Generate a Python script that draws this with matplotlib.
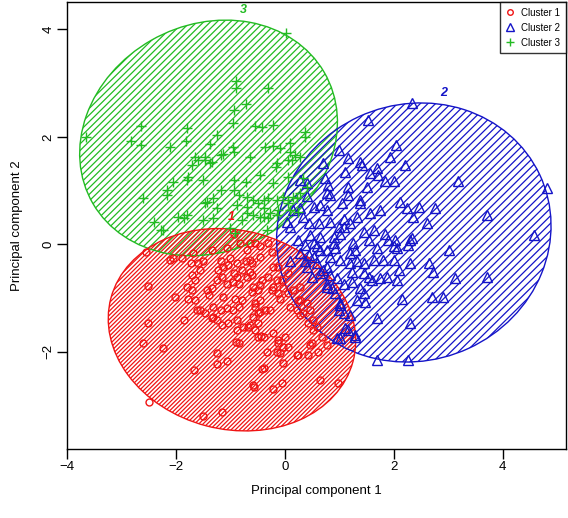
import numpy as np
import matplotlib.pyplot as plt
from matplotlib.patches import Ellipse
from matplotlib.collections import LineCollection

plt.rcParams['font.family'] = ['Liberation Sans', 'DejaVu Sans']

# points (principal component 1, principal component 2)
cluster1_pts = [
    (-2.54, -0.14), (-2.52, -0.78), (-2.01, -0.98), (-1.86, -1.41), (-2.52, -1.46), (-2.60, -1.83),
    (-2.23, -1.93), (-2.50, -2.93), (-1.51, -3.20), (-1.15, -3.12), (-1.66, -2.34), (-1.24, -2.03),
    (-1.24, -2.22), (-1.07, -2.17), (-0.89, -1.81), (-0.85, -1.84), (-0.56, -2.66), (-0.41, -2.33),
    (-0.21, -2.70), (-0.05, -2.59), (-0.03, -2.20), (-0.32, -2.00), (-0.14, -2.00), (0.05, -1.91),
    (-0.12, -1.84), (0.01, -1.72), (-0.21, -1.66), (-0.43, -1.71), (0.25, -2.06), (0.43, -2.06),
    (0.61, -2.00), (0.50, -1.84), (0.65, -2.53), (0.98, -2.58), (-2.06, -0.26), (-1.88, -0.26),
    (-1.73, -0.35), (-1.51, -0.32), (-1.70, -0.57), (-1.64, -0.66), (-1.79, -0.79), (-1.70, -0.85),
    (-1.77, -1.01), (-1.64, -1.04), (-1.42, -0.85), (-1.33, -0.82), (-1.24, -0.66), (-1.15, -0.60),
    (-1.06, -0.73), (-0.94, -0.54), (-0.87, -0.60), (-0.78, -0.48), (-0.69, -0.60), (-0.60, -0.57),
    (-0.58, -0.79), (-0.50, -0.85), (-0.45, -0.76), (-0.60, -0.88), (-1.18, -0.32), (-1.00, -0.26),
    (-0.87, -0.35), (-0.72, -0.32), (-0.63, -0.29), (-1.55, -1.22), (-1.46, -1.28), (-1.31, -1.16),
    (-1.18, -1.22), (-1.06, -1.19), (-1.13, -0.98), (-0.91, -1.01), (-0.78, -1.04), (-0.85, -1.16),
    (-1.31, -1.35), (-1.15, -1.50), (-1.04, -1.47), (-0.87, -1.41), (-0.76, -1.53), (-0.63, -1.50),
    (-0.58, -1.35), (-0.50, -1.28), (-0.45, -1.04), (-0.36, -1.22), (-0.27, -1.22), (-0.30, -0.60),
    (-0.21, -0.79), (-0.12, -0.91), (-0.12, -0.42), (-0.05, -0.66), (0.05, -0.54), (0.16, -0.85),
    (0.28, -0.79), (0.25, -1.04), (0.41, -1.10), (0.10, -1.16), (0.23, -1.22), (0.28, -1.32),
    (0.43, -1.47), (0.52, -1.60), (-1.68, -0.17), (-1.33, -0.11), (-1.06, -0.07), (-0.94, 0.20),
    (-0.69, -0.11), (-0.45, -0.04), (-0.82, 0.02), (-0.63, 0.02), (-2.10, -0.29), (-1.59, -0.35),
    (-1.55, -0.48), (-1.61, -1.22), (-1.33, -1.38), (-1.40, -0.94), (-0.96, -1.22), (-1.24, -1.41),
    (-0.87, -1.60), (-1.13, -0.42), (-1.22, -0.48), (-1.04, -0.38), (-0.96, -0.70), (-0.85, -0.73),
    (-0.60, -0.35), (-0.63, -0.51), (-0.54, -1.10), (-0.67, -1.53), (-0.50, -1.72), (-0.54, 0.02),
    (-0.30, 0.02), (-0.23, -0.14), (-0.45, -0.23), (-0.41, -0.66), (-0.21, -0.42), (-0.14, -0.66),
    (-0.03, -0.82), (0.06, -0.91), (-0.23, -0.85), (-0.08, -1.01), (0.28, -1.04), (0.47, -1.22),
    (0.34, -1.28), (0.52, -1.41), (0.60, -1.53), (0.69, -1.72), (0.78, -1.88), (-0.54, -1.16),
    (-0.45, -1.26), (-0.50, -1.47), (-0.54, -1.60), (-0.39, -1.72), (-0.12, -1.78), (-0.03, -1.91),
    (-0.08, -2.03), (0.23, -2.06), (0.47, -1.88), (-0.39, -2.31), (-0.58, -2.62),
]

cluster2_pts = [
    (2.33, 2.63), (1.52, 2.31), (2.05, 1.84), (1.94, 1.63), (2.21, 1.48), (0.99, 1.76), (1.17, 1.60),
    (1.39, 1.54), (1.42, 1.48), (1.11, 1.35), (1.69, 1.42), (1.57, 1.32), (1.72, 1.29), (1.84, 1.17),
    (2.00, 1.17), (3.19, 1.17), (4.81, 1.04), (0.71, 1.51), (0.74, 1.23), (0.80, 1.10), (0.83, 0.92),
    (1.17, 1.07), (1.17, 0.92), (1.51, 1.07), (1.05, 0.76), (1.39, 0.82), (1.39, 0.76), (1.57, 0.58),
    (1.75, 0.64), (2.12, 0.79), (2.24, 0.67), (2.46, 0.70), (2.76, 0.67), (2.36, 0.51), (2.61, 0.39),
    (3.71, 0.55), (4.57, 0.17), (3.01, -0.11), (2.30, 0.08), (2.27, -0.01), (2.06, -0.07), (2.64, -0.35),
    (2.73, -0.51), (3.13, -0.63), (3.71, -0.60), (2.70, -0.98), (2.91, -0.98), (2.15, -1.01),
    (2.30, -1.47), (1.69, -1.38), (1.69, -2.15), (2.27, -2.15), (1.11, -1.56), (1.29, -1.69),
    (1.02, -1.75), (0.99, -1.22), (1.02, -1.10), (0.28, 0.67), (0.41, 0.89), (0.53, 0.70), (0.65, 0.73),
    (0.77, 0.64), (0.04, 0.42), (0.10, 0.33), (0.25, 0.08), (0.47, 0.17), (0.53, 0.02), (0.65, 0.14),
    (0.90, 0.14), (1.02, 0.20), (1.08, 0.33), (1.20, 0.39), (0.83, 0.42), (0.99, 0.33), (1.08, 0.48),
    (1.32, 0.51), (1.45, 0.23), (1.63, 0.27), (1.54, 0.08), (1.69, -0.07), (1.84, 0.20), (1.90, 0.08),
    (2.03, 0.08), (2.00, -0.04), (2.33, 0.11), (1.26, 0.02), (1.29, -0.11), (1.20, -0.17), (0.93, -0.07),
    (0.90, 0.02), (0.77, -0.11), (0.59, -0.04), (0.53, -0.23), (0.71, -0.48), (0.83, -0.57), (1.02, -0.29),
    (1.20, -0.35), (1.32, -0.32), (1.45, -0.35), (1.63, -0.29), (1.81, -0.29), (2.00, -0.29), (2.09, -0.48),
    (2.30, -0.35), (1.23, -0.51), (1.45, -0.54), (1.54, -0.60), (1.60, -0.66), (1.75, -0.63), (1.88, -0.60),
    (2.06, -0.66), (1.08, -0.73), (1.23, -0.70), (1.39, -0.82), (1.45, -0.91), (1.32, -1.04), (1.48, -1.07),
    (0.28, -0.17), (0.10, -0.32), (0.41, -0.42), (0.65, -0.54), (0.77, -0.79), (0.87, -0.82), (0.93, -0.91),
    (0.16, 0.64), (0.34, 0.51), (0.44, 0.39), (0.62, 0.39), (0.28, 1.20), (0.41, 1.14), (0.77, 0.95),
    (0.38, -0.01), (0.44, -0.20), (0.65, -0.11), (0.83, -0.23), (0.38, -0.32), (0.59, -0.35), (0.77, -0.42),
    (0.50, -0.60), (0.77, -0.73), (0.96, -0.63), (1.02, -1.13), (1.08, -1.28), (1.20, -1.32), (1.17, -1.60),
    (1.29, -1.72), (0.96, -1.75),
]

cluster3_pts = [
    (0.03, 3.93), (-3.66, 2.00), (-0.89, 3.04), (-0.89, 2.91), (-0.30, 2.91), (-0.94, 2.50), (-0.72, 2.61),
    (-0.96, 2.26), (-0.54, 2.20), (-0.41, 2.18), (-0.21, 2.22), (-2.65, 2.20), (-1.79, 2.17), (-2.82, 1.93),
    (-2.65, 1.85), (-1.81, 1.93), (-1.24, 2.04), (-1.37, 1.87), (-2.10, 1.81), (-0.96, 1.81), (-0.94, 1.72),
    (-0.36, 1.81), (-0.21, 1.83), (-0.08, 1.79), (0.10, 1.89), (0.38, 2.09), (0.38, 2.00), (-1.64, 1.63),
    (-1.59, 1.57), (-1.46, 1.63), (-1.33, 1.53), (-1.13, 1.68), (-0.63, 1.63), (0.10, 1.72), (0.06, 1.57),
    (-1.70, 1.48), (0.28, 1.63), (-2.05, 1.16), (-1.79, 1.20), (-1.50, 1.20), (-0.94, 1.20), (-0.72, 1.16),
    (-0.45, 1.29), (-0.21, 1.14), (0.05, 1.25), (-2.16, 1.01), (-2.16, 0.92), (-2.61, 0.86), (-0.94, 1.01),
    (-0.85, 0.92), (-0.69, 0.88), (-0.58, 0.82), (-0.39, 0.82), (-0.30, 0.86), (-0.14, 0.82), (0.05, 0.82),
    (0.16, 0.88), (-1.42, 0.79), (-1.31, 0.86), (-1.24, 0.68), (-0.87, 0.73), (-0.69, 0.69), (-1.97, 0.51),
    (-1.86, 0.49), (-1.79, 0.55), (-2.28, 0.27), (-2.23, 0.27), (-1.50, 0.45), (-1.31, 0.49), (-0.69, 0.58),
    (-0.45, 0.51), (-0.27, 0.58), (-0.78, 0.45), (0.05, 0.77), (0.10, 0.64), (0.28, 0.96), (0.41, 1.07),
    (-1.18, 1.66), (-1.46, 1.57), (-1.37, 1.51), (-0.14, 1.51), (0.19, 1.66), (-1.77, 1.25), (-1.18, 1.01),
    (-0.49, 0.77), (-0.03, 0.88), (0.23, 0.86), (-1.46, 0.77), (-0.39, 0.68), (-0.12, 0.64), (-2.41, 0.42),
    (-1.00, 0.30), (-0.91, 0.21), (-0.58, 0.55), (-0.30, 0.49), (-0.14, 0.55), (0.14, 1.57), (-0.17, 1.44),
    (0.34, 1.23), (0.25, 0.60), (-0.32, 0.27), (-0.39, 0.51),
]

labels = ['Cluster 1', 'Cluster 2', 'Cluster 3']
ell_center = [(-0.97, -1.59), (2.37, 0.22), (-1.40, 1.98)]
ell_axes = [(2.30, 1.85), (2.55, 2.38), (2.45, 2.10)]   # semi axes
ell_angle = [-15, 25, 30]
ell_tag_pos = [(-0.98, 0.51), (2.91, 2.82), (-0.76, 4.36)]
colors = ['#f01414', '#1414c8', '#22bb22']
hatch_gap = [0.078, 0.14, 0.123]
markers = ['o', '^', '+']
msizes = [5, 6.5, 7]


def shade(ax, center, axes, ang, col, gap):
    ell = Ellipse(center, 2 * axes[0], 2 * axes[1], angle=ang, fill=False,
                  edgecolor=col, lw=1.0, zorder=2)
    ax.add_patch(ell)
    cx, cy = center
    r = max(axes) + 0.3
    segs = []
    for c in np.arange(-2 * r, 2 * r, gap):
        x0, x1 = cx - 2 * r, cx + 2 * r
        segs.append([(x0, cy + (x0 - cx) + c), (x1, cy + (x1 - cx) + c)])
    lc = LineCollection(segs, colors=col, linewidths=0.9, zorder=1)
    ax.add_collection(lc, autolim=False)
    lc.set_clip_path(ell)


fig = plt.figure(figsize=(5.68, 5.18), dpi=100)
ax = fig.add_axes([67 / 568, 69 / 518, 499 / 568, 447 / 518])

for i in [2, 1, 0]:
    shade(ax, ell_center[i], ell_axes[i], ell_angle[i], colors[i], hatch_gap[i])

pts = [cluster1_pts, cluster2_pts, cluster3_pts]
for i in range(3):
    xy = np.array(pts[i])
    ax.plot(xy[:, 0], xy[:, 1], linestyle='none', marker=markers[i], ms=msizes[i],
            mfc='none', mec=colors[i], mew=1.0, label=labels[i], zorder=3)
    ax.text(ell_tag_pos[i][0], ell_tag_pos[i][1], str(i + 1), color=colors[i],
            fontsize=9, fontstyle='italic', fontweight='bold', ha='center', va='center')

ax.set_xlim(-3.99, 5.165)
ax.set_ylim(-3.81, 4.51)
ax.set_xticks([-4, -2, 0, 2, 4])
ax.set_yticks([-2, 0, 2, 4])
ax.tick_params(direction='out', length=7, width=1, labelsize=9.5, pad=2)
plt.setp(ax.get_yticklabels(), rotation=90, va='center')
for s in ax.spines.values():
    s.set_linewidth(1.0)
ax.set_xlabel('Principal component 1', fontsize=9.5, labelpad=8)
ax.set_ylabel('Principal component 2', fontsize=9.5, labelpad=14)

leg = ax.legend(loc='upper right', fontsize=7, frameon=True, fancybox=False,
                edgecolor='black', borderaxespad=0, handlelength=1.0,
                handletextpad=0.6, borderpad=0.6, labelspacing=0.5,
                markerscale=0.8)
leg.get_frame().set_linewidth(1.0)

fig.savefig('out.png', dpi=100)
